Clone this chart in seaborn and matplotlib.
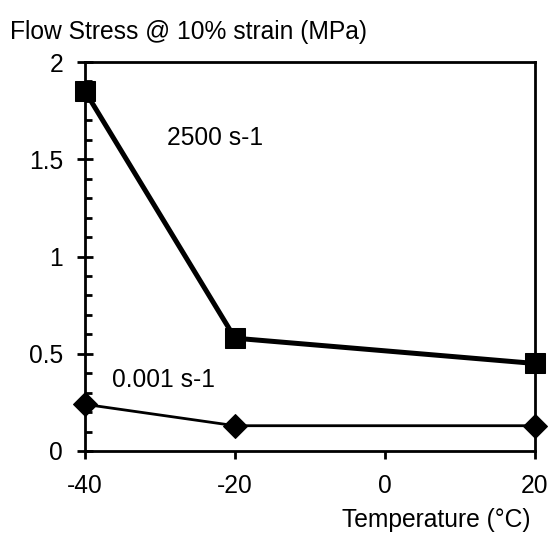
import matplotlib
matplotlib.use("Agg")
import matplotlib.pyplot as plt
import seaborn as sns
import pandas as pd
from matplotlib.ticker import MultipleLocator

temps = [-40, -20, 20]
stress_2500 = [1.85, 0.58, 0.45]
stress_0001 = [0.24, 0.13, 0.13]
x_ticks = [-40, -20, 0, 20]
y_ticks = [0, 0.5, 1, 1.5, 2]
y_tick_labels = ["0", "0.5", "1", "1.5", "2"]

sns.set_theme(style="white")
plt.rcParams['font.family'] = ['Liberation Sans', 'DejaVu Sans']
plt.rcParams['text.color'] = 'black'
FS = 17.7

fig = plt.figure(figsize=(5.5, 5.33), dpi=100)
ax = fig.add_axes([85/550, 1 - 451/533, 450/550, 389/533])

df_hi = pd.DataFrame({"T": temps, "S": stress_2500})
df_lo = pd.DataFrame({"T": temps, "S": stress_0001})
sns.lineplot(data=df_hi, x="T", y="S", ax=ax, color="black", linewidth=3.6,
             marker="s", markersize=14.5, markeredgecolor="black", clip_on=False, zorder=5)
sns.lineplot(data=df_lo, x="T", y="S", ax=ax, color="black", linewidth=2.0,
             marker="D", markersize=12, markeredgecolor="black", clip_on=False, zorder=5)

ax.set_xlim(-40, 20)
ax.set_ylim(0, 2)
ax.set_xticks(x_ticks)
ax.set_xticklabels([str(t) for t in x_ticks])
ax.set_yticks(y_ticks)
ax.set_yticklabels(y_tick_labels)
ax.yaxis.set_minor_locator(MultipleLocator(0.1))
for s in ax.spines.values():
    s.set_color("black")
    s.set_linewidth(2.0)
ax.tick_params(axis="y", which="major", direction="inout", length=11.5, width=2,
               labelsize=FS, pad=10, left=True, colors="black")
ax.tick_params(axis="y", which="minor", direction="in", length=5, width=2, left=True,
               colors="black")
ax.tick_params(axis="x", which="major", direction="out", length=5.5, width=2,
               labelsize=FS, pad=11, bottom=True, colors="black")
ax.set_xlabel("")
ax.set_ylabel("")

ax.text(-29.07, 1.62, "2500 s-1", fontsize=FS, ha="left", va="center_baseline",
        color="black")
ax.text(-36.4, 0.38, "0.001 s-1", fontsize=FS, ha="left", va="center_baseline",
        color="black")
fig.text(10/550, 1 - 30/533, "Flow Stress @ 10% strain (MPa)", fontsize=FS,
         ha="left", va="center_baseline", color="black")
fig.text(530/550, 1 - 518/533, "Temperature (°C)", fontsize=FS,
         ha="right", va="center_baseline", color="black")

fig.savefig("out.png", dpi=100)
